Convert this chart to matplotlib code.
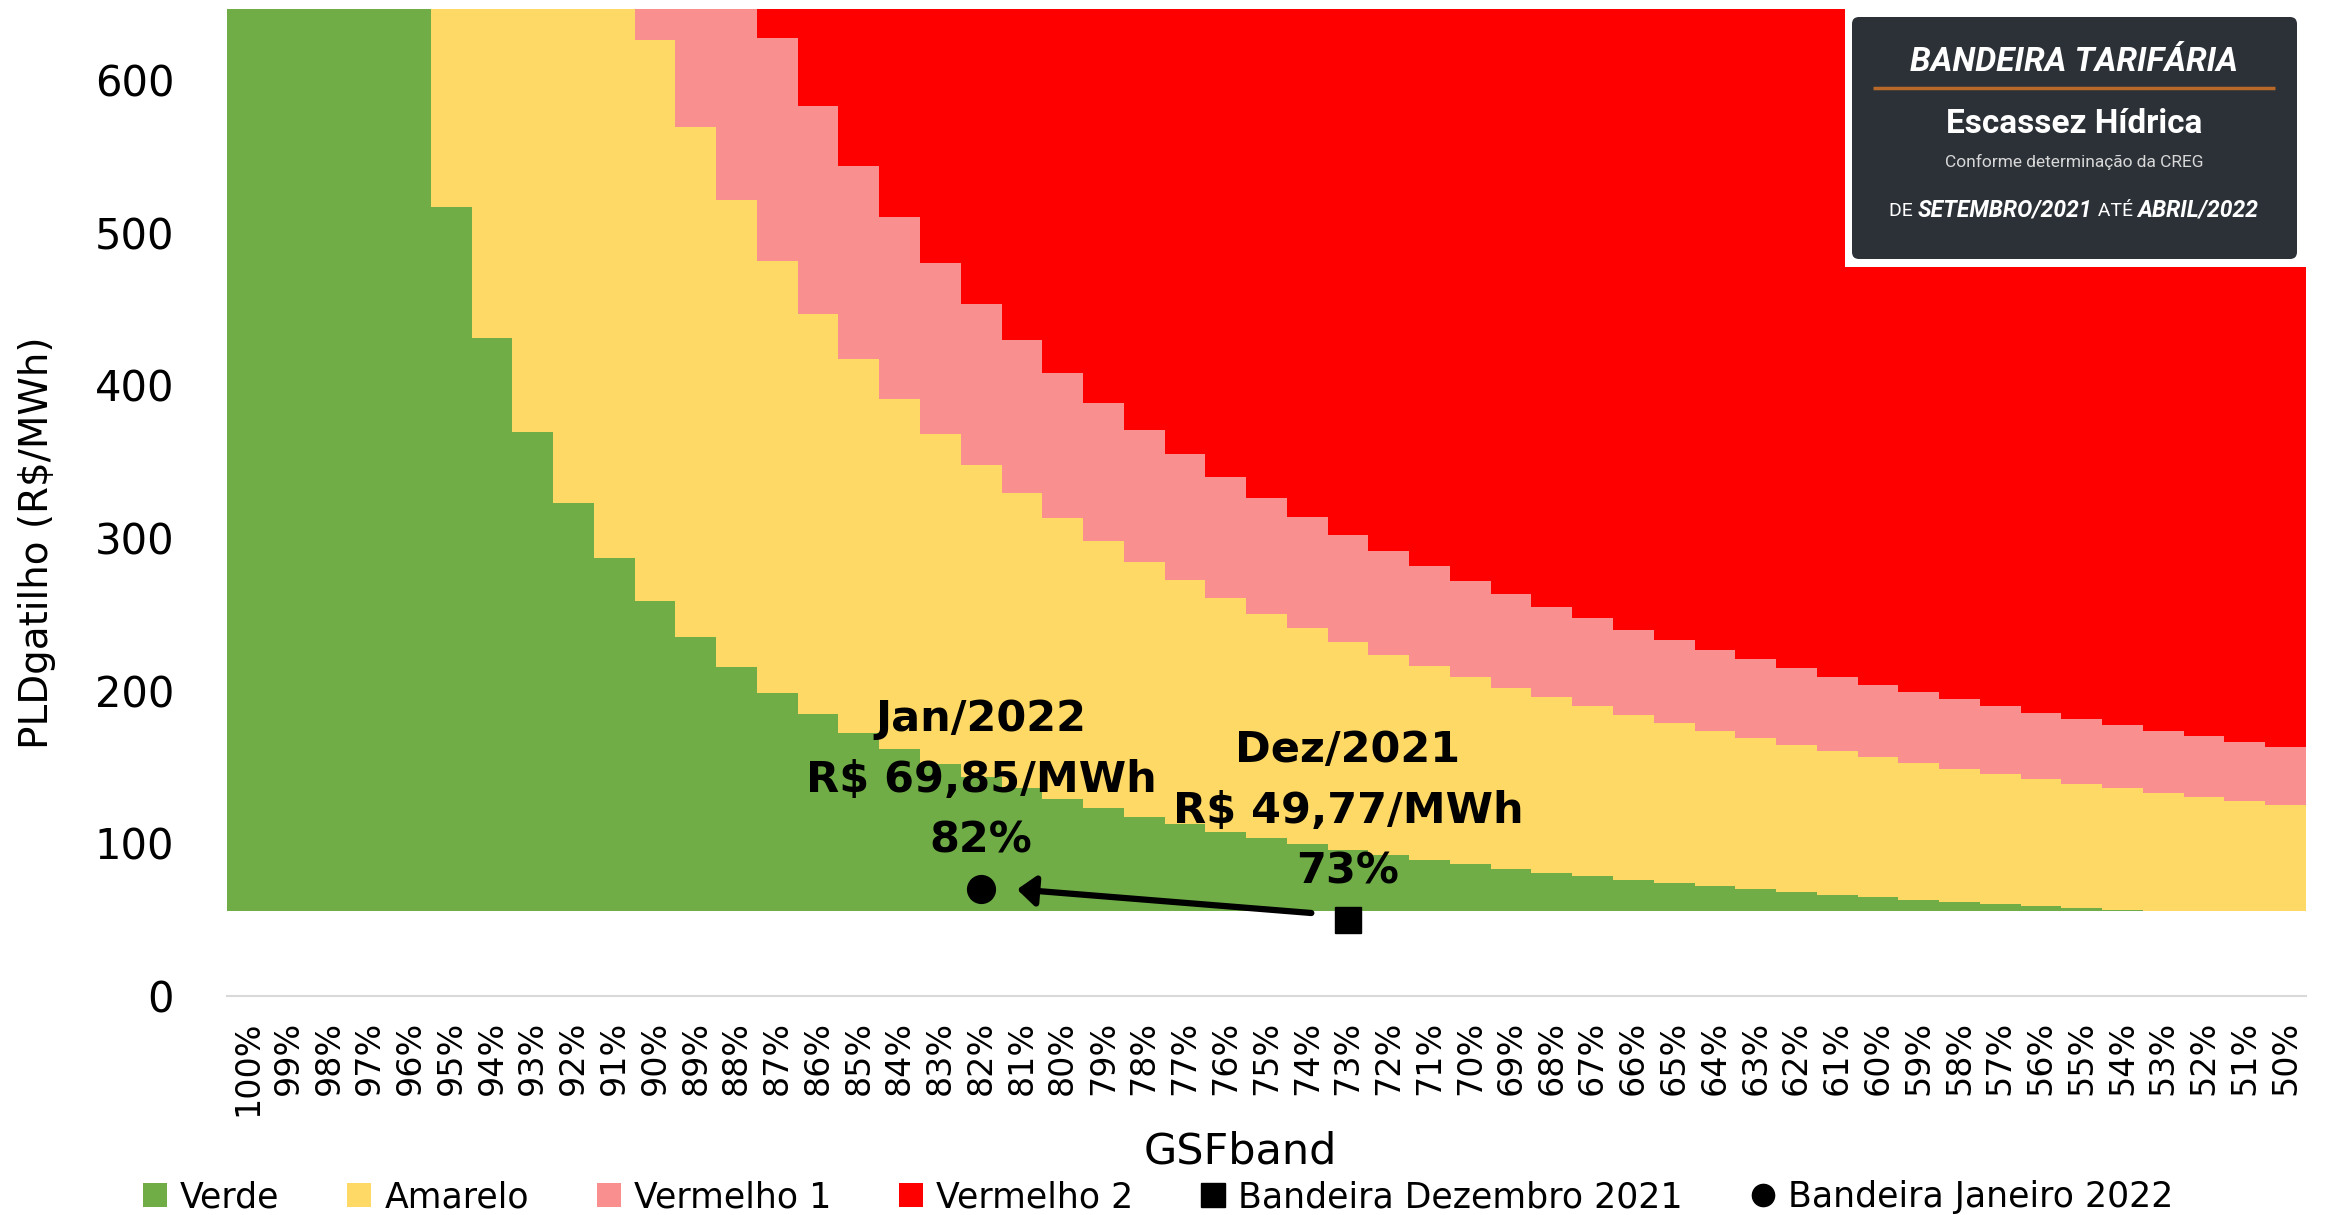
import matplotlib
matplotlib.use("Agg")
import matplotlib.pyplot as plt
from matplotlib.patches import Patch, FancyBboxPatch
from matplotlib.lines import Line2D
from matplotlib.offsetbox import TextArea, HPacker, AnnotationBbox

# ---------------------------------------------------------------------------
# Data: PLD trigger (R$/MWh) that activates each tariff flag, by GSF band
# ---------------------------------------------------------------------------
gsf_labels = [
    "100%", "99%", "98%", "97%", "96%", "95%", "94%", "93%", "92%", "91%",
    "90%", "89%", "88%", "87%", "86%", "85%", "84%", "83%", "82%", "81%",
    "80%", "79%", "78%", "77%", "76%", "75%", "74%", "73%", "72%", "71%",
    "70%", "69%", "68%", "67%", "66%", "65%", "64%", "63%", "62%", "61%",
    "60%", "59%", "58%", "57%", "56%", "55%", "54%", "53%", "52%", "51%",
    "50%",
]

pld_min = 55.70    # PLD floor
pld_max = 646.58   # PLD ceiling

# upper limit of each flag band
verde_top = [
    646.58, 646.58, 646.58, 646.58, 646.58, 517.0, 430.8, 369.3, 323.1, 287.2,
    258.5, 235.0, 215.4, 198.8, 184.6, 172.3, 161.6, 152.1, 143.6, 136.1,
    129.3, 123.1, 117.5, 112.4, 107.7, 103.4, 99.4, 95.7, 92.3, 89.1,
    86.2, 83.4, 80.8, 78.3, 76.0, 73.9, 71.8, 69.9, 68.0, 66.3,
    64.6, 63.0, 61.5, 60.1, 58.8, 57.4, 56.2, 55.7, 55.7, 55.7,
    55.7,
]
amarelo_top = [
    646.58, 646.58, 646.58, 646.58, 646.58, 646.58, 646.58, 646.58, 646.58, 646.58,
    626.0, 569.1, 521.7, 481.5, 447.1, 417.3, 391.3, 368.2, 347.8, 329.5,
    313.0, 298.1, 284.5, 272.2, 260.8, 250.4, 240.8, 231.9, 223.6, 215.9,
    208.7, 201.9, 195.6, 189.7, 184.1, 178.9, 173.9, 169.2, 164.7, 160.5,
    156.5, 152.7, 149.0, 145.6, 142.3, 139.1, 136.1, 133.2, 130.4, 127.8,
    125.2,
]
vermelho1_top = [
    646.58, 646.58, 646.58, 646.58, 646.58, 646.58, 646.58, 646.58, 646.58, 646.58,
    646.58, 646.58, 646.58, 627.7, 582.9, 544.0, 510.0, 480.0, 453.3, 429.5,
    408.0, 388.6, 370.9, 354.8, 340.0, 326.4, 313.8, 302.2, 291.4, 281.4,
    272.0, 263.2, 255.0, 247.3, 240.0, 233.1, 226.7, 220.5, 214.7, 209.2,
    204.0, 199.0, 194.3, 189.8, 185.5, 181.3, 177.4, 173.6, 170.0, 166.5,
    163.2,
]
vermelho2_top = [pld_max] * len(gsf_labels)

band_names = ["Verde", "Amarelo", "Vermelho 1", "Vermelho 2"]
band_colors = ["#70AD47", "#FFD966", "#F98F8F", "#FF0000"]

# flags actually applied
dez_gsf, dez_pld = "73%", 49.77
jan_gsf, jan_pld = "82%", 69.85

# ---------------------------------------------------------------------------
W, H = 2328, 1215
fig = plt.figure(figsize=(W / 100, H / 100), dpi=100)
plt.rcParams["font.family"] = ["DejaVu Sans"]

ax = fig.add_axes([227 / W, 1 - 996 / H, (2306 - 227) / W, (996 - 9) / H])

n = len(gsf_labels)
edges = [i - 0.5 for i in range(n + 1)]
lower = [pld_min] * n
for name, color, top in zip(band_names, band_colors,
                            [verde_top, amarelo_top, vermelho1_top, vermelho2_top]):
    upper = [max(t, b) for t, b in zip(top, lower)]
    ax.stairs(upper, edges, baseline=lower, fill=True, color=color,
              linewidth=0, zorder=2)
    lower = upper

# flag markers
xd = gsf_labels.index(dez_gsf)
xj = gsf_labels.index(jan_gsf)
ax.plot([xd], [dez_pld], marker="s", ms=19, color="black", ls="none",
        zorder=5, clip_on=False)
ax.plot([xj], [jan_pld], marker="o", ms=20, color="black", ls="none",
        zorder=5, clip_on=False)


def brl(v):
    return f"{v:.2f}".replace(".", ",")


ax.text(xj, 141.5, f"Jan/2022\nR$ {brl(jan_pld)}/MWh\n{jan_gsf}",
        ha="center", va="center", fontsize=31, fontweight="bold",
        linespacing=1.57, zorder=6)
ax.text(xd, 121.2, f"Dez/2021\nR$ {brl(dez_pld)}/MWh\n{dez_gsf}",
        ha="center", va="center", fontsize=31, fontweight="bold",
        linespacing=1.57, zorder=6)

ax.annotate("", xy=(xj + 0.88, jan_pld), xytext=(xd - 0.9, dez_pld + 4.6),
            arrowprops=dict(arrowstyle="-|>,head_length=0.55,head_width=0.45",
                            lw=4.5, color="black", shrinkA=0, shrinkB=0,
                            mutation_scale=20),
            zorder=6)

# axes styling
ax.set_xlim(-0.5, n - 0.5)
ax.set_ylim(0, pld_max)
ax.set_yticks([0, 100, 200, 300, 400, 500, 600])
ax.set_xticks(range(n))
ax.set_xticklabels(gsf_labels, rotation=90, fontsize=24)
ax.tick_params(axis="y", length=0, pad=38, labelsize=30)
ax.tick_params(axis="x", length=0, pad=18)
for side in ("top", "right", "left"):
    ax.spines[side].set_visible(False)
ax.spines["bottom"].set_color("#D9D9D9")
ax.spines["bottom"].set_linewidth(1.5)
ax.spines["bottom"].set_zorder(1)

ax.set_ylabel("PLDgatilho (R$/MWh)", fontsize=28)
ax.yaxis.set_label_coords((37 - 227) / 2079, (996 - 543) / 987)
ax.yaxis.label.set_va("center")
ax.set_xlabel("GSFband", fontsize=31)
ax.xaxis.set_label_coords((1240 - 227) / 2079, (996 - 1152) / 987)
ax.xaxis.label.set_va("center")

# legend
handles = [Patch(facecolor=c, edgecolor="none") for c in band_colors]
handles += [
    Line2D([], [], marker="s", ms=17, color="black", ls="none"),
    Line2D([], [], marker="o", ms=16, color="black", ls="none"),
]
labels = band_names + ["Bandeira Dezembro 2021", "Bandeira Janeiro 2022"]
fig.legend(handles, labels, loc="center", bbox_to_anchor=(0.4975, 1 - 1197 / H),
           ncol=6, frameon=False, fontsize=25, handlelength=0.69,
           handleheight=0.7, handletextpad=0.38, columnspacing=1.95,
           borderpad=0, borderaxespad=0)

# tariff-flag badge (pixel coordinates inside its own axes)
bx0, bx1, by0, by1 = 1845, 2306, 8, 267
axb = fig.add_axes([bx0 / W, 1 - by1 / H, (bx1 - bx0) / W, (by1 - by0) / H])
axb.set_xlim(bx0, bx1)
axb.set_ylim(by1, by0)
axb.set_facecolor("white")
for s in axb.spines.values():
    s.set_visible(False)
axb.set_xticks([])
axb.set_yticks([])
axb.add_patch(FancyBboxPatch((1852, 17), 445, 242,
                             boxstyle="round,pad=0,rounding_size=7",
                             facecolor="#2B3137", edgecolor="none"))
axb.plot([1873, 2275], [88, 88], color="#B8692A", lw=2.5,
         solid_capstyle="butt")
badge_font = ["Roboto", "DejaVu Sans"]
axb.text(2074, 62, "BANDEIRA TARIFÁRIA", ha="center", va="center",
         color="white", fontsize=24, fontweight="bold", fontstyle="italic",
         family=badge_font)
axb.text(2074, 124, "Escassez Hídrica", ha="center", va="center",
         color="white", fontsize=24, fontweight="bold", family=badge_font)
axb.text(2074, 162, "Conforme determinação da CREG", ha="center",
         va="center", color="#D8D8D8", fontsize=12.5, family=badge_font)

parts = [
    ("DE ", dict(size=14, weight="normal", style="normal")),
    ("SETEMBRO/2021", dict(size=16.5, weight="bold", style="italic")),
    (" ATÉ ", dict(size=14, weight="normal", style="normal")),
    ("ABRIL/2022", dict(size=16.5, weight="bold", style="italic")),
]
areas = [TextArea(t, textprops=dict(color="white", family=badge_font,
                                    fontsize=p["size"], fontweight=p["weight"],
                                    fontstyle=p["style"]))
         for t, p in parts]
row = HPacker(children=areas, align="baseline", pad=0, sep=0)
axb.add_artist(AnnotationBbox(row, (2074, 210), xycoords="data",
                              box_alignment=(0.5, 0.5), frameon=False, pad=0))

fig.savefig("out.png", dpi=100, facecolor="white")
